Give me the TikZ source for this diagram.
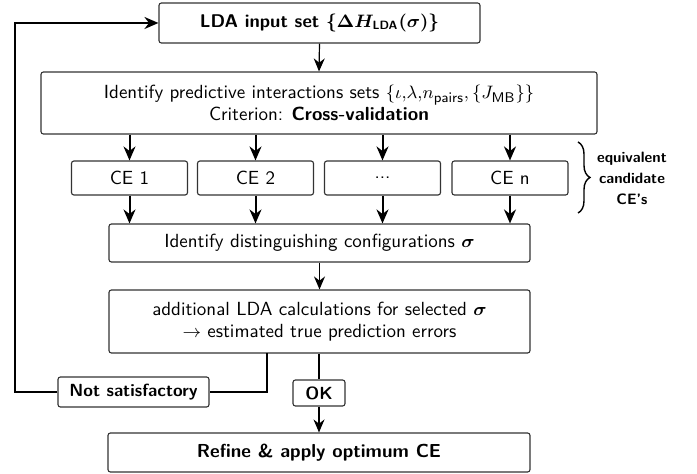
\documentclass[tikz,border=0pt]{standalone}
\usepackage{amsmath}
\usepackage{bm}
\usetikzlibrary{arrows.meta,decorations.pathreplacing}
\renewcommand{\familydefault}{\sfdefault}
\begin{document}
\begin{tikzpicture}[x=0.5pt,y=-0.5pt,
  font=\sffamily\fontsize{9.5}{11}\selectfont,
  box/.style={draw=black!80,line width=0.55pt,rounded corners=1.2pt,inner sep=0pt,align=center},
  arr/.style={line width=1pt,-{Stealth[length=7pt,width=6pt]}},
  thinarr/.style={line width=0.6pt,-{Stealth[length=6.5pt,width=5.5pt]}},
  loopline/.style={line width=1.1pt},
  bfl/.style={font=\sffamily\bfseries\fontsize{8.8}{11}\selectfont}]
\useasboundingbox (0,0) rectangle (697,474);
\node[box,minimum width=160.5pt,minimum height=20pt,font=\sffamily\bfseries\fontsize{9.2}{11}\selectfont] (top) at (319.5,23)
  {LDA input set {\boldmath$\{\Delta H_{\mathsf{LDA}}(\sigma)\}$}};
\node[box,minimum width=278pt,minimum height=31pt] (ident) at (319,103)
  {Identify predictive interactions sets $\{\iota,\!\lambda,\!n_{\mathsf{pairs}},\{J_{\mathsf{MB}}\}\}$\\ Criterion: \textbf{Cross-validation}};
\node[box,minimum width=58pt,minimum height=17pt] (ce1) at (129.5,178) {CE 1};
\node[box,minimum width=58pt,minimum height=17pt] (ce2) at (255.5,178) {CE 2};
\node[box,minimum width=58pt,minimum height=17pt] (ce3) at (382.5,178) {...};
\node[box,minimum width=58pt,minimum height=17pt] (cen) at (510,178) {CE n};
\node[box,minimum width=210.5pt,minimum height=19pt] (dist) at (319.5,243)
  {Identify distinguishing configurations $\bm{\sigma}$};
\node[box,minimum width=210.5pt,minimum height=31.5pt] (add) at (319.5,321.5)
  {additional LDA calculations for selected $\bm{\sigma}$\\ $\rightarrow$ estimated true prediction errors};
\node[box,bfl,minimum width=75.5pt,minimum height=15pt] (notsat) at (133.5,392) {Not satisfactory};
\node[box,bfl,minimum width=26pt,minimum height=13pt] (ok) at (319,393) {OK};
\node[box,minimum width=211pt,minimum height=19.5pt,font=\sffamily\bfseries\fontsize{9.4}{11}\selectfont] (refine) at (319,452.5) {Refine \& apply optimum CE};
\node[align=center,font=\sffamily\bfseries\fontsize{7.5}{10.5}\selectfont] (eq) at (632,178) {equivalent\\candidate\\CE's};
\coordinate (bt) at (578,142);
\coordinate (bb) at (578,213);
\coordinate (lc) at (15,392);
\coordinate (ac) at (267,353);
% arrows
\draw[thinarr] (top.south) -- (ident.north);
\foreach \n in {ce1,ce2,ce3,cen}{
  \draw[arr] (ident.south -| \n.north) -- (\n.north);
  \draw[arr] (\n.south) -- (dist.north -| \n.south);
}
\draw[thinarr] (dist.south) -- (add.north);
\draw[line width=0.6pt] (add.south -| ok.north) -- (ok.north);
\draw[thinarr] (ok.south) -- (refine.north);
\draw[loopline] (ac) |- (notsat.east);
\draw[loopline,-{Stealth[length=7pt,width=6pt]}] (notsat.west) -- (lc) |- (top.west);
\draw[line width=0.7pt,decorate,decoration={brace,amplitude=6pt}] (bt) -- (bb);
\end{tikzpicture}
\end{document}
